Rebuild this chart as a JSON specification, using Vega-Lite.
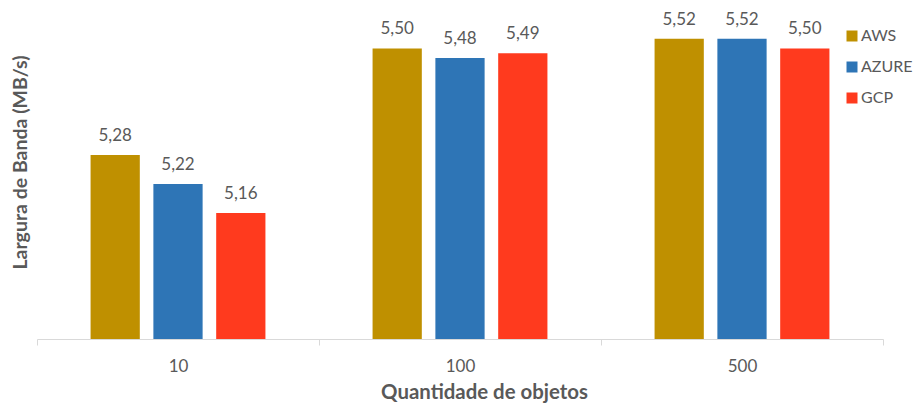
{
  "$schema": "https://vega.github.io/schema/vega-lite/v6.json",
  "width": 846,
  "height": 339,
  "autosize": {"type": "none"},
  "padding": {"left": 37, "top": 0, "right": 35, "bottom": 66},
  "config": {
    "locale": {"number": {"decimal": ",", "thousands": ".", "grouping": [3], "currency": ["", ""]}},
    "view": {"stroke": null},
    "font": "Lato"
  },
  "data": {
    "values": [
      {"objetos": "10", "provedor": "AWS", "banda": 5.28},
      {"objetos": "10", "provedor": "AZURE", "banda": 5.22},
      {"objetos": "10", "provedor": "GCP", "banda": 5.16},
      {"objetos": "100", "provedor": "AWS", "banda": 5.50},
      {"objetos": "100", "provedor": "AZURE", "banda": 5.48},
      {"objetos": "100", "provedor": "GCP", "banda": 5.49},
      {"objetos": "500", "provedor": "AWS", "banda": 5.52},
      {"objetos": "500", "provedor": "AZURE", "banda": 5.52},
      {"objetos": "500", "provedor": "GCP", "banda": 5.50}
    ]
  },
  "encoding": {
    "x": {
      "field": "objetos",
      "type": "ordinal",
      "sort": ["10", "100", "500"],
      "scale": {"paddingInner": 0, "paddingOuter": 0},
      "axis": {
        "title": "Quantidade de objetos",
        "tickBand": "extent",
        "domainColor": "#d9d9d9",
        "tickColor": "#d9d9d9",
        "tickSize": 6,
        "labelAngle": 0,
        "labelFontSize": 17,
        "labelColor": "#595959",
        "labelPadding": 13,
        "titleFontSize": 20.4,
        "titleFontWeight": "bold",
        "titleColor": "#595959",
        "titleX": 447,
        "titleY": 59,
        "titleBaseline": "alphabetic"
      }
    },
    "xOffset": {
      "field": "provedor",
      "type": "nominal",
      "scale": {"paddingInner": 0.216, "paddingOuter": 0.853}
    },
    "y": {
      "field": "banda",
      "type": "quantitative",
      "scale": {"domain": [4.9, 5.6], "zero": false, "nice": false},
      "axis": {
        "title": "Largura de Banda (MB/s)",
        "labels": false,
        "ticks": false,
        "domain": false,
        "grid": false,
        "titleFontSize": 19.5,
        "titleFontWeight": "bold",
        "titleColor": "#595959",
        "titleAngle": -90,
        "titleX": -11,
        "titleY": 162,
        "titleAlign": "center",
        "titleBaseline": "alphabetic"
      }
    }
  },
  "layer": [
    {
      "mark": {"type": "bar", "clip": true},
      "encoding": {
        "color": {
          "field": "provedor",
          "type": "nominal",
          "scale": {"domain": ["AWS", "AZURE", "GCP"], "range": ["#BF9000", "#2E75B6", "#FF3A1E"]},
          "legend": {
            "title": null,
            "orient": "none",
            "legendX": 807,
            "legendY": 28,
            "padding": 0,
            "symbolType": "square",
            "symbolSize": 121,
            "symbolStrokeWidth": 0,
            "labelFontSize": 16,
            "labelColor": "#595959",
            "labelOffset": 1,
            "rowPadding": 15
          }
        }
      }
    },
    {
      "mark": {"type": "text", "baseline": "alphabetic", "dy": -14, "fontSize": 17, "color": "#595959"},
      "encoding": {"text": {"field": "banda", "type": "quantitative", "format": ".2f"}}
    }
  ]
}
